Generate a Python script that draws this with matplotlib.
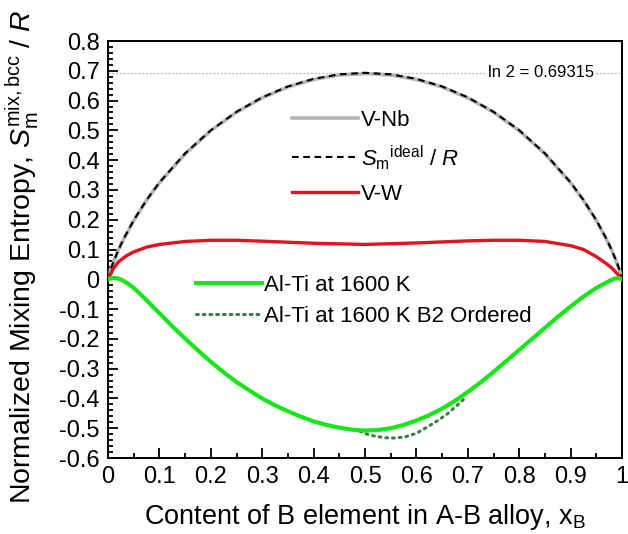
import matplotlib
matplotlib.use("Agg")
import matplotlib.pyplot as plt
from matplotlib.ticker import MultipleLocator, FuncFormatter

plt.rcParams["font.family"] = ["Liberation Sans", "DejaVu Sans"]
plt.rcParams["mathtext.fontset"] = "custom"
plt.rcParams["mathtext.rm"] = "Liberation Sans"
plt.rcParams["mathtext.it"] = "Liberation Sans:italic"
plt.rcParams["axes.unicode_minus"] = False

# ideal mixing entropy of a binary solution (and V-Nb, which sits on top of it)
ideal_x = [0, 0.005, 0.01, 0.02, 0.03, 0.05, 0.075, 0.1, 0.15, 0.2, 0.25, 0.3,
           0.35, 0.4, 0.45, 0.5, 0.55, 0.6, 0.65, 0.7, 0.75, 0.8, 0.85, 0.9,
           0.925, 0.95, 0.97, 0.98, 0.99, 0.995, 1]
ideal_y = [0, 0.0315, 0.056, 0.098, 0.1347, 0.1985, 0.2664, 0.3251, 0.4227,
           0.5004, 0.5623, 0.6109, 0.6474, 0.673, 0.6881, 0.6931, 0.6881,
           0.673, 0.6474, 0.6109, 0.5623, 0.5004, 0.4227, 0.3251, 0.2664,
           0.1985, 0.1347, 0.098, 0.056, 0.0315, 0]
vnb_y = [0, 0.031, 0.055, 0.097, 0.133, 0.197, 0.265, 0.324, 0.421, 0.499,
         0.561, 0.609, 0.646, 0.671, 0.686, 0.691, 0.686, 0.671, 0.646, 0.609,
         0.561, 0.499, 0.421, 0.324, 0.265, 0.197, 0.133, 0.097, 0.055, 0.031, 0]

vw_x = [0, 0.01, 0.02, 0.035, 0.05, 0.075, 0.1, 0.15, 0.2, 0.25, 0.3, 0.4, 0.5,
        0.6, 0.7, 0.75, 0.8, 0.85, 0.9, 0.925, 0.95, 0.97, 0.98, 0.99, 1]
vw_y = [0, 0.035, 0.058, 0.078, 0.092, 0.108, 0.117, 0.127, 0.131, 0.131,
        0.128, 0.121, 0.117, 0.122, 0.129, 0.131, 0.131, 0.127, 0.113, 0.1,
        0.076, 0.052, 0.038, 0.02, 0]

alti_x = [0, 0.01, 0.02, 0.03, 0.04, 0.05, 0.06, 0.07, 0.08, 0.09, 0.1, 0.115,
          0.13, 0.15, 0.175, 0.2, 0.225, 0.25, 0.275, 0.3, 0.325, 0.35, 0.375,
          0.4, 0.425, 0.45, 0.475, 0.5, 0.525, 0.55, 0.575, 0.6, 0.625, 0.65,
          0.675, 0.7, 0.725, 0.75, 0.775, 0.8, 0.825, 0.85, 0.875, 0.9, 0.925,
          0.95, 0.965, 0.975, 0.985, 0.993, 1]
alti_y = [0, 0.005, 0.003, -0.005, -0.016, -0.029, -0.045, -0.062, -0.079,
          -0.097, -0.114, -0.14, -0.166, -0.199, -0.239, -0.277, -0.312,
          -0.345, -0.373, -0.4, -0.423, -0.443, -0.461, -0.477, -0.489,
          -0.498, -0.505, -0.508, -0.506, -0.5, -0.489, -0.474, -0.456,
          -0.434, -0.408, -0.378, -0.346, -0.311, -0.274, -0.237, -0.2,
          -0.163, -0.126, -0.091, -0.058, -0.029, -0.015, -0.006, 0.002,
          0.004, 0]

b2_x = [0.49, 0.5, 0.52, 0.54, 0.56, 0.58, 0.6, 0.62, 0.64, 0.66, 0.68, 0.695]
b2_y = [-0.51, -0.518, -0.527, -0.532, -0.533, -0.528, -0.517, -0.497,
        -0.476, -0.452, -0.422, -0.398]

ln2 = 0.69315

fig = plt.figure(figsize=(6.28, 5.34), dpi=100)
ax = fig.add_axes([0.172, 0.1423, 0.8185, 0.7809])

ax.axhline(ln2, color="#b8b8b8", lw=0.9, ls=(0, (1.5, 1.5)), zorder=1)
ax.text(0.945, ln2, "ln 2 = 0.69315", ha="right", va="center", fontsize=12,
        bbox=dict(fc="white", ec="none", pad=1.5), zorder=2)

l_vnb, = ax.plot(ideal_x, vnb_y, color="#b4b4b4", lw=2.6, zorder=3)
l_ideal, = ax.plot(ideal_x, ideal_y, color="black", lw=1.5,
                   ls=(0, (3.2, 2.2)), zorder=4)
l_vw, = ax.plot(vw_x, vw_y, color="#e0141e", lw=2.4, zorder=5)
l_alti, = ax.plot(alti_x, alti_y, color="#19e619", lw=3.0, zorder=5)
l_b2, = ax.plot(b2_x, b2_y, color="#3d7d45", lw=2.2, ls=(0, (0.6, 1.6)),
                dash_capstyle="round", zorder=4)

ax.set_xlim(0, 1)
ax.set_ylim(-0.6, 0.8)
ax.xaxis.set_major_locator(MultipleLocator(0.1))
ax.xaxis.set_minor_locator(MultipleLocator(0.05))
ax.yaxis.set_major_locator(MultipleLocator(0.1))
ax.yaxis.set_minor_locator(MultipleLocator(0.02))
fmt = FuncFormatter(lambda v, p: "%g" % round(v, 2))
ax.xaxis.set_major_formatter(fmt)
ax.yaxis.set_major_formatter(fmt)
ax.tick_params(which="both", direction="in", top=False, right=False,
               labelsize=17, width=1.3)
ax.tick_params(which="major", length=7, pad=6)
ax.tick_params(which="minor", length=3.5)
for s in ax.spines.values():
    s.set_linewidth(1.4)

ax.set_xlabel(r"Content of B element in A-B alloy, x$_\mathrm{B}$",
              fontsize=19.5, labelpad=10)
ax.set_ylabel(r"Normalized Mixing Entropy, $S_\mathrm{m}^\mathrm{mix,bcc}$ / $R$",
              fontsize=20.5)
ax.yaxis.set_label_coords(-0.13, 0.482)

leg1 = ax.legend([l_vnb, l_ideal, l_vw],
                 ["V-Nb", r"$S_\mathrm{m}$$^\mathrm{ideal}$ / $R$", "V-W"],
                 loc="upper left", bbox_to_anchor=(0.34, 0.857), frameon=False,
                 fontsize=16, handlelength=3.0, handletextpad=0.1,
                 labelspacing=0.55, borderaxespad=0)
ax.add_artist(leg1)
ax.legend([l_alti, l_b2], ["Al-Ti at 1600 K", "Al-Ti at 1600 K B2 Ordered"],
          loc="upper left", bbox_to_anchor=(0.153, 0.461), frameon=False,
          fontsize=16, handlelength=3.0, handletextpad=0.1,
          labelspacing=0.45, borderaxespad=0)

fig.savefig("out.png", dpi=100)
